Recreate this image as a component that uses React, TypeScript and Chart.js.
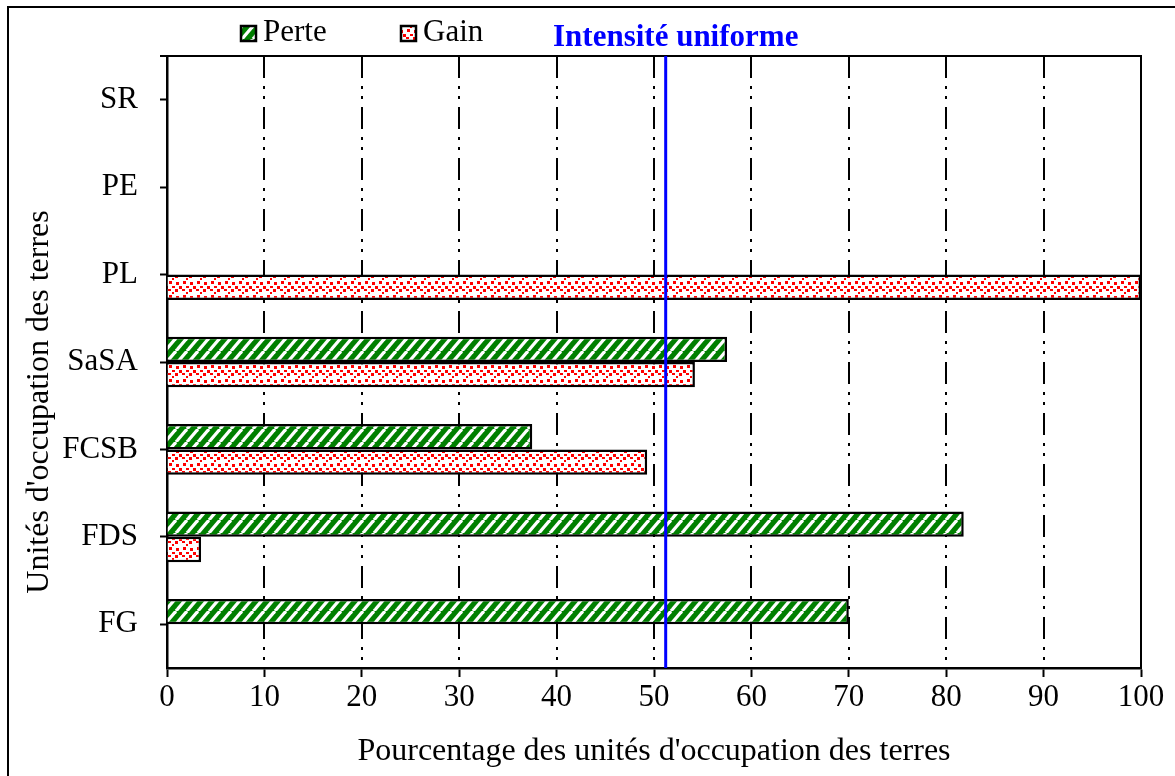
import React, { useEffect, useRef } from "react";
import { Chart, registerables } from "chart.js";

Chart.register(...registerables);

const categories = ["SR", "PE", "PL", "SaSA", "FCSB", "FDS", "FG"];
const perte = [0, 0, 0, 57.5, 37.5, 81.8, 70];
const gain = [0, 0, 100, 54.2, 49.3, 3.5, 0];
const seriesNames = ["Perte", "Gain"];
const uniformIntensity = 51.2;
const uniformLabel = "Intensité uniforme";
const xMin = 0;
const xMax = 100;
const xStep = 10;
const xTitle = "Pourcentage des unités d'occupation des terres";
const yTitle = "Unités d'occupation des terres";

const FONT = "'Liberation Serif', 'Times New Roman', serif";
const W = 1175;
const H = 776;

function makeHatch(ctx: CanvasRenderingContext2D): CanvasPattern {
  const c = document.createElement("canvas");
  c.width = 11;
  c.height = 13;
  const g = c.getContext("2d")!;
  g.fillStyle = "#007f00";
  g.fillRect(0, 0, 11, 13);
  g.strokeStyle = "#ffffff";
  g.lineWidth = 3.2;
  for (const dx of [-11, 0, 11]) {
    g.beginPath();
    g.moveTo(dx, 13);
    g.lineTo(dx + 11, 0);
    g.stroke();
  }
  return ctx.createPattern(c, "repeat")!;
}

function makeDots(ctx: CanvasRenderingContext2D): CanvasPattern {
  const c = document.createElement("canvas");
  c.width = 14;
  c.height = 14;
  const g = c.getContext("2d")!;
  g.fillStyle = "#ffffff";
  g.fillRect(0, 0, 14, 14);
  g.fillStyle = "#ff0000";
  const sq = [
    [1, 1, 3, 3],
    [8, 2, 3, 3],
    [4, 6, 3, 2],
    [11, 6, 3, 3],
    [0, 9, 3, 2],
    [7, 9, 3, 3],
    [4, 12, 2, 2],
  ];
  for (const [x, y, w, h] of sq) g.fillRect(x, y, w, h);
  return ctx.createPattern(c, "repeat")!;
}

export default function App() {
  const ref = useRef<HTMLCanvasElement | null>(null);

  useEffect(() => {
    const canvas = ref.current!;
    const ctx0 = canvas.getContext("2d")!;
    const hatch = makeHatch(ctx0);
    const dots = makeDots(ctx0);

    const deco = {
      id: "deco",
      beforeDatasetsDraw(chart: any) {
        const { ctx, chartArea: a, scales } = chart;
        const x = scales.x;
        ctx.save();
        ctx.strokeStyle = "#000";
        ctx.lineWidth = 2;
        ctx.setLineDash([22, 8, 3, 7, 3, 8]);
        for (const t of x.ticks) {
          if (t.value <= xMin || t.value >= xMax) continue;
          const px = Math.round(x.getPixelForValue(t.value));
          ctx.beginPath();
          ctx.moveTo(px, a.top);
          ctx.lineTo(px, a.bottom);
          ctx.stroke();
        }
        ctx.restore();
      },
      afterDatasetsDraw(chart: any) {
        const { ctx, chartArea: a, scales } = chart;
        const x = scales.x;
        ctx.save();
        ctx.strokeStyle = "#000";
        ctx.lineWidth = 2;
        ctx.beginPath();
        ctx.moveTo(a.left - 7, a.top);
        ctx.lineTo(a.right, a.top);
        ctx.lineTo(a.right, a.bottom);
        ctx.stroke();

        const ux = x.getPixelForValue(uniformIntensity);
        ctx.strokeStyle = "#0000ff";
        ctx.lineWidth = 3;
        ctx.beginPath();
        ctx.moveTo(ux, a.top);
        ctx.lineTo(ux, a.bottom);
        ctx.stroke();

        ctx.strokeStyle = "#000";
        ctx.lineWidth = 2;
        ctx.beginPath();
        ctx.moveTo(8, H);
        ctx.lineTo(8, 7);
        ctx.lineTo(W, 7);
        ctx.stroke();

        const items = [
          { label: seriesNames[0], fill: hatch, bx: 241, tx: 263 },
          { label: seriesNames[1], fill: dots, bx: 401, tx: 423 },
        ];
        ctx.font = `31px ${FONT}`;
        ctx.textBaseline = "middle";
        ctx.textAlign = "left";
        for (const it of items) {
          ctx.fillStyle = it.fill;
          ctx.fillRect(it.bx, 26, 15, 15);
          ctx.strokeStyle = "#000";
          ctx.lineWidth = 2.5;
          ctx.strokeRect(it.bx, 26, 15, 15);
          ctx.fillStyle = "#000";
          ctx.fillText(it.label, it.tx, 33);
        }
        ctx.font = `bold 31px ${FONT}`;
        ctx.fillStyle = "#0000ff";
        ctx.fillText(uniformLabel, 553, 38);

        ctx.fillStyle = "#000";
        ctx.font = `32px ${FONT}`;
        ctx.textAlign = "center";
        ctx.fillText(xTitle, (a.left + a.right) / 2, 752);
        ctx.translate(40, 402);
        ctx.rotate(-Math.PI / 2);
        ctx.fillText(yTitle, 0, 0);
        ctx.restore();
      },
    };

    const chart = new Chart(canvas, {
      type: "bar",
      data: {
        labels: categories,
        datasets: [
          {
            label: seriesNames[0],
            data: perte,
            backgroundColor: hatch as any,
            borderColor: "#000",
            borderWidth: 2.5,
          },
          {
            label: seriesNames[1],
            data: gain,
            backgroundColor: dots as any,
            borderColor: "#000",
            borderWidth: 2.5,
          },
        ],
      },
      options: {
        indexAxis: "y",
        responsive: false,
        animation: false,
        devicePixelRatio: 1,
        datasets: {
          bar: { categoryPercentage: 0.58, barPercentage: 1.0 },
        },
        layout: { padding: { top: 56, right: 34, left: 0, bottom: 0 } },
        plugins: {
          legend: { display: false },
          tooltip: { enabled: false },
          title: { display: false },
        },
        scales: {
          x: {
            type: "linear",
            min: xMin,
            max: xMax,
            ticks: {
              stepSize: xStep,
              color: "#000",
              font: { family: FONT, size: 31 },
              padding: 2,
              maxRotation: 0,
            },
            grid: {
              display: true,
              drawOnChartArea: false,
              drawTicks: true,
              tickLength: 9,
              tickColor: "#000",
              tickWidth: 2,
              color: "#000",
            },
            border: { display: true, color: "#000", width: 2.5 },
            afterFit: (s: any) => {
              s.height = H - 668;
            },
          },
          y: {
            type: "category",
            offset: true,
            ticks: {
              color: "#000",
              font: { family: FONT, size: 31 },
              padding: 22,
            },
            grid: {
              display: true,
              offset: false,
              drawOnChartArea: false,
              drawTicks: true,
              tickLength: 7,
              tickColor: "#000",
              tickWidth: 2,
              color: "#000",
            },
            border: { display: true, color: "#000", width: 2.5 },
            afterFit: (s: any) => {
              s.width = 167;
            },
          },
        },
      },
      plugins: [deco],
    });

    return () => chart.destroy();
  }, []);

  return (
    <div style={{ position: "absolute", left: 0, top: 0, width: W, height: H, background: "#fff" }}>
      <canvas ref={ref} width={W} height={H} style={{ display: "block" }} />
    </div>
  );
}
